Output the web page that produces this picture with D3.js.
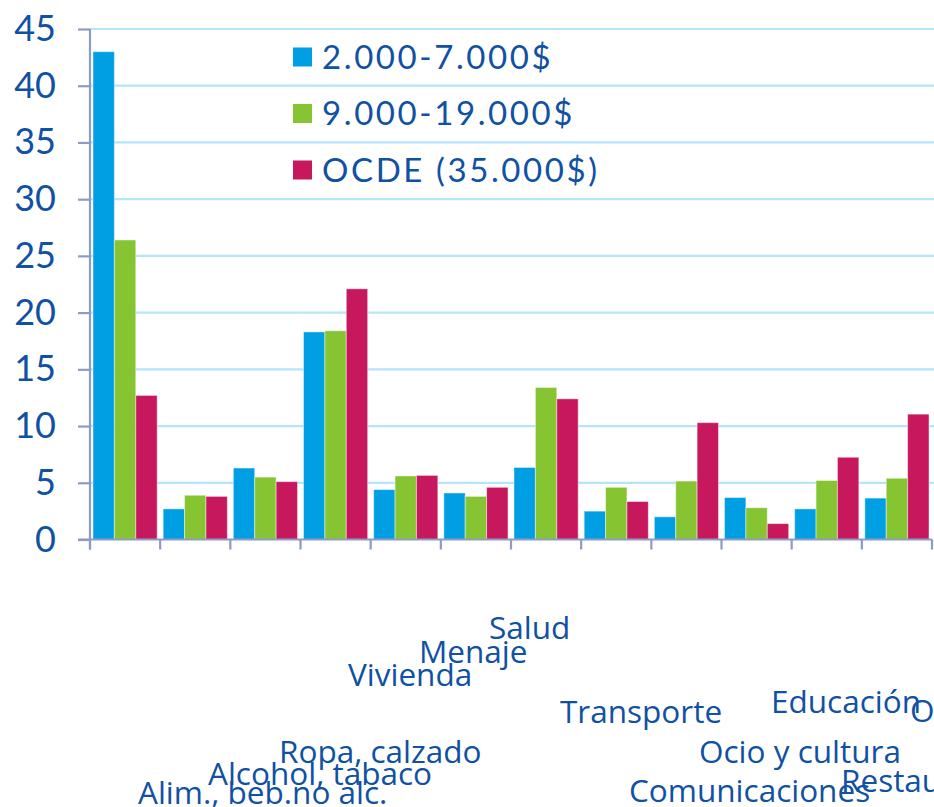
<!DOCTYPE html>
<html>
<head>
<meta charset="utf-8">
<script src="https://cdn.jsdelivr.net/npm/d3@7"></script>
<style>
  body { margin: 0; background: #fff; }
  svg { display: block; font-family: Lato, "Open Sans", sans-serif; }
</style>
</head>
<body>
<svg width="934" height="807"></svg>
<script>
// categories (x axis)
var categories = ['Alim., beb.no alc.', 'Alcohol, tabaco', 'Ropa, calzado', 'Vivienda', 'Menaje',
    'Salud', 'Transporte', 'Comunicaciones', 'Ocio y cultura', 'Educación',
    'Restaurantes y hoteles', 'Otros'];

// series names
var seriesNames = ['2.000-7.000$', '9.000-19.000$', 'OCDE (35.000$)'];

// values, one array per series
var lowIncome  = [43.0, 2.7, 6.3, 18.3, 4.4, 4.1, 6.35, 2.5, 2.0, 3.7, 2.7, 3.65];
var midIncome  = [26.4, 3.9, 5.5, 18.4, 5.6, 3.8, 13.4, 4.6, 5.15, 2.8, 5.2, 5.4];
var ocde       = [12.7, 3.8, 5.1, 22.1, 5.65, 4.6, 12.4, 3.35, 10.3, 1.4, 7.25, 11.05];

var yTicks = [0, 5, 10, 15, 20, 25, 30, 35, 40, 45];

//colors of each series
var colors = ['#009fe3', '#87c431', '#c8185d'];
var textColor = '#1051a3';

// label layout: [x of text start, baseline] - labels are staggered as in the original
var labelPos = [[138, 804], [208, 785], [279, 763], [348, 686], [419, 663], [489, 639],
    [560, 723], [629, 802], [699, 763], [771, 713], [841, 792], [910, 722]];

var svg = d3.select('svg');

var padding = {t: 29, r: 2, b: 267.5, l: 90};
var svgWidth = +svg.attr('width');
var svgHeight = +svg.attr('height');

var x0 = d3.scaleBand()
    .domain(categories)
    .range([padding.l, svgWidth - padding.r]);

var x1 = d3.scaleBand()
    .domain(seriesNames)
    .range([3, x0.bandwidth() - 3]);

var y = d3.scaleLinear()
    .domain([0, 45])
    .range([svgHeight - padding.b, padding.t]);

//gridlines
svg.append('g')
    .selectAll('line')
    .data(yTicks.filter(function(d) { return d > 0; }))
    .enter()
    .append('line')
    .attr('x1', padding.l)
    .attr('x2', svgWidth)
    .attr('y1', function(d) { return y(d); })
    .attr('y2', function(d) { return y(d); })
    .style('stroke', '#b6e4f8')
    .style('stroke-width', 2.2);

// bars
var rows = categories.map(function(c, i) {
    return {cat: c, vals: [lowIncome[i], midIncome[i], ocde[i]]};
});

var groups = svg.append('g')
    .selectAll('g')
    .data(rows)
    .enter()
    .append('g')
    .attr('transform', function(d) { return 'translate(' + x0(d.cat) + ',0)'; });

groups.selectAll('rect')
    .data(function(d) { return d.vals.map(function(v, j) { return {s: seriesNames[j], v: v, j: j}; }); })
    .enter()
    .append('rect')
    .attr('x', function(d) { return x1(d.s); })
    .attr('width', x1.bandwidth())
    .attr('y', function(d) { return y(d.v); })
    .attr('height', function(d) { return y(0) - y(d.v); })
    .style('fill', function(d) { return colors[d.j]; })
    .style('stroke', 'rgba(255,255,255,0.45)')
    .style('stroke-width', 1);

// y axis
var yAxis = d3.axisLeft(y).tickValues(yTicks).tickSize(12).tickPadding(22);
var yAxisG = svg.append('g')
    .attr('transform', 'translate(' + padding.l + ',0)')
    .call(yAxis);
yAxisG.select('.domain').remove();
yAxisG.selectAll('.tick line').style('stroke', '#8d9bc5').style('stroke-width', 2.2);
yAxisG.selectAll('.tick text')
    .style('font-size', '36px')
    .style('font-family', 'Lato, sans-serif')
    .style('fill', textColor);

// vertical axis line
svg.append('line')
    .attr('x1', padding.l).attr('x2', padding.l)
    .attr('y1', y(45)).attr('y2', y(0) + 10)
    .style('stroke', '#8d9bc5').style('stroke-width', 2.2);

// x axis line and ticks between groups
svg.append('line')
    .attr('x1', padding.l - 12).attr('x2', svgWidth - padding.r)
    .attr('y1', y(0)).attr('y2', y(0))
    .style('stroke', '#8d9bc5').style('stroke-width', 2.2);

svg.append('g')
    .selectAll('line')
    .data(categories.concat(['end']))
    .enter()
    .append('line')
    .attr('x1', function(d, i) { return padding.l + i * x0.step(); })
    .attr('x2', function(d, i) { return padding.l + i * x0.step(); })
    .attr('y1', y(0))
    .attr('y2', y(0) + 10)
    .style('stroke', '#8d9bc5').style('stroke-width', 2.2);

// category labels
svg.append('g')
    .selectAll('text')
    .data(categories)
    .enter()
    .append('text')
    .attr('x', function(d, i) { return labelPos[i][0]; })
    .attr('y', function(d, i) { return labelPos[i][1]; })
    .style('font-family', '"Open Sans", sans-serif')
    .style('font-size', '31.5px')
    .style('fill', textColor)
    .text(function(d) { return d; });

// legend
var legend = svg.append('g')
    .selectAll('g')
    .data(seriesNames)
    .enter()
    .append('g')
    .attr('transform', function(d, i) { return 'translate(293,' + (57 + i * 56.5) + ')'; });

legend.append('rect')
    .attr('x', 0).attr('y', -9.5)
    .attr('width', 19).attr('height', 19)
    .style('fill', function(d, i) { return colors[i]; });

legend.append('text')
    .attr('x', 29)
    .attr('y', 0)
    .attr('dy', '0.36em')
    .style('font-family', 'Lato, sans-serif')
    .style('font-size', '33px')
    .style('letter-spacing', '2.6px')
    .style('fill', textColor)
    .text(function(d) { return d; });
</script>
</body>
</html>
